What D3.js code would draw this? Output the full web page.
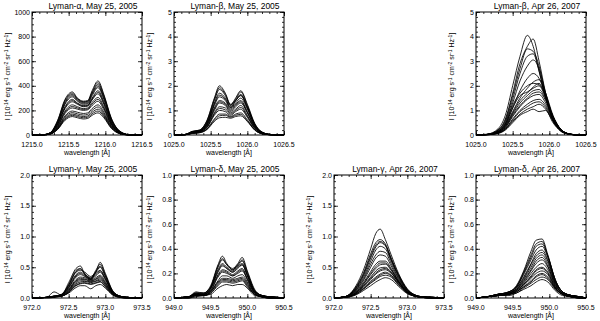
<!DOCTYPE html>
<html>
<head>
<meta charset="utf-8">
<script src="https://cdn.jsdelivr.net/npm/d3@7"></script>
<style>
body { margin: 0; background: #fff; }
svg { font-family: "Liberation Sans", Arial, sans-serif; }
</style>
</head>
<body>
<svg id="chart" width="600" height="321"></svg>
<script>
// ---- data ----
// Lyman-alpha, May 25 2005
var lyaMayWave = [1215.0, 1215.15, 1215.25, 1215.35, 1215.45, 1215.55, 1215.62, 1215.7, 1215.76, 1215.82, 1215.9, 1215.98, 1216.08, 1216.2, 1216.32, 1216.5];
var lyaMayProfiles = [
    [0, 2, 20, 120, 290, 350, 300, 275, 280, 360, 440, 330, 140, 30, 3, 0],
    [0, 2, 19, 115, 280, 340, 295, 270, 275, 350, 425, 320, 135, 29, 3, 0],
    [0, 2, 18, 110, 270, 330, 290, 265, 270, 340, 410, 310, 130, 28, 3, 0],
    [0, 2, 17, 105, 260, 320, 282, 258, 262, 330, 398, 300, 125, 26, 2, 0],
    [0, 2, 16, 100, 250, 310, 275, 250, 255, 320, 385, 290, 120, 25, 2, 0],
    [0, 2, 15, 90, 230, 290, 260, 240, 245, 300, 360, 270, 110, 22, 2, 0],
    [0, 2, 15, 88, 222, 280, 255, 235, 240, 292, 348, 260, 105, 21, 2, 0],
    [0, 2, 14, 85, 215, 270, 250, 230, 235, 285, 335, 250, 100, 20, 2, 0],
    [0, 1, 12, 75, 195, 245, 230, 215, 220, 265, 305, 230, 92, 18, 2, 0],
    [0, 1, 11, 70, 185, 232, 220, 208, 212, 252, 290, 218, 88, 17, 1, 0],
    [0, 1, 10, 65, 175, 220, 210, 200, 205, 240, 275, 205, 85, 16, 1, 0],
    [0, 1, 9, 58, 155, 195, 185, 175, 180, 215, 245, 185, 75, 14, 1, 0],
    [0, 1, 9, 54, 145, 182, 172, 162, 168, 200, 228, 172, 70, 13, 1, 0],
    [0, 1, 8, 50, 135, 170, 160, 150, 155, 185, 210, 160, 65, 12, 1, 0],
    [0, 1, 8, 48, 128, 160, 150, 140, 145, 172, 195, 150, 60, 11, 1, 0],
    [0, 1, 7, 45, 120, 150, 140, 130, 135, 160, 180, 140, 55, 10, 1, 0]
];
// Lyman-beta, May 25 2005
var lybMayWave = [1025.0, 1025.15, 1025.25, 1025.35, 1025.45, 1025.55, 1025.62, 1025.7, 1025.77, 1025.84, 1025.91, 1026.0, 1026.1, 1026.2, 1026.32, 1026.5];
var lybMayProfiles = [
    [0, 0.02, 0.15, 0.2, 0.6, 1.5, 2.0, 1.7, 1.25, 1.45, 1.75, 1.2, 0.45, 0.12, 0.02, 0],
    [0, 0.02, 0.14, 0.2, 0.58, 1.45, 1.92, 1.65, 1.22, 1.4, 1.6, 1.1, 0.42, 0.11, 0.02, 0],
    [0, 0.02, 0.14, 0.19, 0.55, 1.4, 1.85, 1.6, 1.2, 1.5, 1.8, 1.25, 0.48, 0.12, 0.02, 0],
    [0, 0.02, 0.13, 0.18, 0.5, 1.3, 1.7, 1.5, 1.15, 1.4, 1.65, 1.15, 0.42, 0.1, 0.02, 0],
    [0, 0.02, 0.12, 0.17, 0.48, 1.25, 1.62, 1.45, 1.12, 1.38, 1.62, 1.12, 0.43, 0.1, 0.02, 0],
    [0, 0.02, 0.12, 0.17, 0.45, 1.2, 1.55, 1.4, 1.1, 1.3, 1.5, 1.05, 0.4, 0.1, 0.02, 0],
    [0, 0.02, 0.11, 0.16, 0.42, 1.1, 1.4, 1.3, 1.05, 1.25, 1.4, 0.95, 0.36, 0.09, 0.01, 0],
    [0, 0.02, 0.11, 0.15, 0.4, 1.05, 1.35, 1.25, 1.0, 1.2, 1.35, 0.92, 0.34, 0.08, 0.01, 0],
    [0, 0.01, 0.1, 0.15, 0.38, 1.0, 1.3, 1.2, 0.95, 1.15, 1.3, 0.9, 0.33, 0.08, 0.01, 0],
    [0, 0.01, 0.09, 0.14, 0.34, 0.9, 1.15, 1.1, 0.9, 1.05, 1.2, 0.8, 0.3, 0.07, 0.01, 0],
    [0, 0.01, 0.09, 0.13, 0.32, 0.85, 1.08, 1.02, 0.85, 1.0, 1.12, 0.76, 0.28, 0.07, 0.01, 0],
    [0, 0.01, 0.08, 0.12, 0.3, 0.8, 1.0, 0.95, 0.8, 0.95, 1.05, 0.72, 0.26, 0.06, 0.01, 0],
    [0, 0.01, 0.07, 0.1, 0.25, 0.65, 0.85, 0.85, 0.75, 0.85, 0.9, 0.62, 0.22, 0.05, 0.01, 0],
    [0, 0.01, 0.07, 0.1, 0.24, 0.6, 0.78, 0.8, 0.72, 0.8, 0.84, 0.58, 0.21, 0.05, 0.01, 0],
    [0, 0.01, 0.06, 0.09, 0.22, 0.55, 0.7, 0.72, 0.68, 0.75, 0.78, 0.55, 0.2, 0.05, 0.01, 0]
];
// Lyman-beta, Apr 26 2007
var lybAprWave = [1025.0, 1025.15, 1025.3, 1025.4, 1025.5, 1025.6, 1025.7, 1025.78, 1025.86, 1025.95, 1026.05, 1026.15, 1026.25, 1026.35, 1026.5];
var lybAprProfiles = [
    [0, 0.03, 0.25, 0.8, 2.0, 3.2, 4.05, 3.6, 2.6, 1.5, 0.6, 0.2, 0.05, 0.01, 0],
    [0, 0.03, 0.2, 0.65, 1.7, 2.9, 3.6, 3.9, 3.0, 1.7, 0.7, 0.22, 0.06, 0.01, 0],
    [0, 0.02, 0.2, 0.6, 1.6, 2.7, 3.5, 3.4, 2.8, 1.6, 0.65, 0.2, 0.05, 0.01, 0],
    [0, 0.02, 0.18, 0.55, 1.45, 2.5, 3.2, 3.3, 2.6, 1.55, 0.6, 0.2, 0.05, 0.01, 0],
    [0, 0.02, 0.15, 0.5, 1.3, 2.2, 2.8, 3.05, 2.7, 1.7, 0.75, 0.25, 0.06, 0.01, 0],
    [0, 0.02, 0.15, 0.45, 1.1, 1.8, 2.3, 2.5, 2.3, 1.6, 0.7, 0.22, 0.05, 0.01, 0],
    [0, 0.02, 0.14, 0.45, 1.2, 1.7, 2.0, 2.1, 2.05, 1.6, 0.75, 0.25, 0.06, 0.01, 0],
    [0, 0.02, 0.12, 0.4, 0.95, 1.5, 1.9, 2.15, 2.25, 1.7, 0.8, 0.26, 0.06, 0.01, 0],
    [0, 0.02, 0.12, 0.4, 1.1, 1.6, 1.75, 1.9, 2.0, 1.5, 0.7, 0.24, 0.05, 0.01, 0],
    [0, 0.02, 0.11, 0.35, 0.9, 1.4, 1.7, 1.95, 2.1, 1.55, 0.72, 0.24, 0.06, 0.01, 0],
    [0, 0.02, 0.1, 0.35, 0.85, 1.3, 1.6, 1.8, 1.85, 1.45, 0.75, 0.25, 0.06, 0.01, 0],
    [0, 0.02, 0.09, 0.3, 0.8, 1.2, 1.5, 1.7, 1.75, 1.4, 0.7, 0.23, 0.05, 0.01, 0],
    [0, 0.02, 0.1, 0.3, 0.75, 1.15, 1.45, 1.6, 1.65, 1.3, 0.65, 0.22, 0.05, 0.01, 0],
    [0, 0.01, 0.08, 0.25, 0.65, 1.0, 1.25, 1.4, 1.45, 1.2, 0.6, 0.2, 0.05, 0.01, 0],
    [0, 0.01, 0.07, 0.24, 0.6, 0.95, 1.15, 1.3, 1.35, 1.12, 0.58, 0.19, 0.05, 0.01, 0],
    [0, 0.01, 0.08, 0.22, 0.55, 0.85, 1.05, 1.15, 1.25, 1.05, 0.55, 0.18, 0.04, 0.01, 0],
    [0, 0.01, 0.06, 0.2, 0.5, 0.8, 0.95, 1.05, 0.95, 1.0, 0.5, 0.16, 0.04, 0.01, 0]
];
// Lyman-gamma, May 25 2005
var lygMayWave = [972.0, 972.2, 972.3, 972.4, 972.5, 972.6, 972.66, 972.72, 972.8, 972.87, 972.93, 973.0, 973.1, 973.2, 973.3, 973.5];
var lygMayProfiles = [
    [0, 0.01, 0.1, 0.05, 0.25, 0.48, 0.52, 0.38, 0.3, 0.42, 0.58, 0.4, 0.12, 0.03, 0.01, 0],
    [0, 0.01, 0.03, 0.06, 0.22, 0.45, 0.48, 0.4, 0.32, 0.45, 0.55, 0.38, 0.11, 0.03, 0.01, 0],
    [0, 0.01, 0.03, 0.05, 0.21, 0.43, 0.47, 0.39, 0.31, 0.43, 0.52, 0.36, 0.11, 0.03, 0.01, 0],
    [0, 0.01, 0.03, 0.05, 0.2, 0.42, 0.45, 0.42, 0.35, 0.42, 0.5, 0.35, 0.1, 0.03, 0.01, 0],
    [0, 0.01, 0.03, 0.05, 0.18, 0.38, 0.42, 0.38, 0.33, 0.4, 0.45, 0.32, 0.1, 0.03, 0.01, 0],
    [0, 0.01, 0.03, 0.05, 0.17, 0.36, 0.4, 0.36, 0.31, 0.38, 0.44, 0.31, 0.09, 0.02, 0.01, 0],
    [0, 0.01, 0.02, 0.04, 0.16, 0.34, 0.38, 0.35, 0.3, 0.36, 0.42, 0.3, 0.09, 0.02, 0.01, 0],
    [0, 0.01, 0.02, 0.04, 0.14, 0.3, 0.34, 0.33, 0.29, 0.33, 0.37, 0.27, 0.08, 0.02, 0.01, 0],
    [0, 0.01, 0.02, 0.04, 0.13, 0.28, 0.32, 0.31, 0.28, 0.31, 0.35, 0.25, 0.08, 0.02, 0.01, 0],
    [0, 0.01, 0.02, 0.04, 0.12, 0.27, 0.3, 0.3, 0.27, 0.3, 0.33, 0.24, 0.07, 0.02, 0.01, 0],
    [0, 0.01, 0.02, 0.03, 0.11, 0.25, 0.28, 0.28, 0.26, 0.28, 0.31, 0.22, 0.07, 0.02, 0, 0],
    [0, 0.01, 0.02, 0.03, 0.1, 0.23, 0.26, 0.27, 0.25, 0.27, 0.29, 0.21, 0.06, 0.02, 0, 0],
    [0, 0.01, 0.02, 0.03, 0.09, 0.21, 0.24, 0.25, 0.23, 0.25, 0.27, 0.19, 0.06, 0.01, 0, 0],
    [0, 0.01, 0.02, 0.03, 0.09, 0.2, 0.23, 0.24, 0.22, 0.24, 0.26, 0.18, 0.05, 0.01, 0, 0],
    [0, 0, 0.01, 0.03, 0.08, 0.17, 0.2, 0.2, 0.15, 0.2, 0.22, 0.16, 0.05, 0.01, 0, 0]
];
// Lyman-delta, May 25 2005
var lydMayWave = [949.0, 949.2, 949.3, 949.4, 949.5, 949.6, 949.66, 949.72, 949.8, 949.87, 949.93, 950.0, 950.1, 950.2, 950.3, 950.5];
var lydMayProfiles = [
    [0, 0.01, 0.05, 0.04, 0.1, 0.27, 0.34, 0.28, 0.24, 0.28, 0.33, 0.22, 0.07, 0.02, 0.01, 0],
    [0, 0.01, 0.04, 0.04, 0.09, 0.26, 0.32, 0.27, 0.23, 0.27, 0.31, 0.21, 0.06, 0.02, 0.01, 0],
    [0, 0.01, 0.04, 0.04, 0.09, 0.25, 0.31, 0.27, 0.23, 0.27, 0.3, 0.2, 0.06, 0.02, 0.01, 0],
    [0, 0.01, 0.04, 0.03, 0.08, 0.23, 0.28, 0.25, 0.22, 0.26, 0.28, 0.19, 0.06, 0.02, 0.01, 0],
    [0, 0.01, 0.03, 0.03, 0.08, 0.22, 0.27, 0.24, 0.21, 0.25, 0.27, 0.18, 0.05, 0.02, 0.01, 0],
    [0, 0.01, 0.03, 0.03, 0.08, 0.21, 0.26, 0.24, 0.21, 0.24, 0.27, 0.18, 0.05, 0.02, 0.01, 0],
    [0, 0.01, 0.03, 0.03, 0.07, 0.19, 0.23, 0.22, 0.19, 0.22, 0.24, 0.16, 0.05, 0.01, 0.01, 0],
    [0, 0.01, 0.03, 0.03, 0.06, 0.18, 0.22, 0.21, 0.18, 0.21, 0.23, 0.15, 0.04, 0.01, 0.01, 0],
    [0, 0.01, 0.03, 0.03, 0.06, 0.17, 0.21, 0.2, 0.18, 0.2, 0.22, 0.15, 0.04, 0.01, 0.01, 0],
    [0, 0.01, 0.02, 0.02, 0.05, 0.14, 0.18, 0.18, 0.16, 0.18, 0.19, 0.13, 0.04, 0.01, 0, 0],
    [0, 0.01, 0.02, 0.02, 0.05, 0.13, 0.16, 0.16, 0.15, 0.16, 0.17, 0.12, 0.03, 0.01, 0, 0],
    [0, 0.01, 0.02, 0.02, 0.05, 0.12, 0.15, 0.15, 0.14, 0.15, 0.16, 0.11, 0.03, 0.01, 0, 0],
    [0, 0, 0.02, 0.02, 0.04, 0.11, 0.14, 0.14, 0.13, 0.14, 0.15, 0.1, 0.03, 0.01, 0, 0],
    [0, 0, 0.02, 0.02, 0.04, 0.1, 0.13, 0.13, 0.12, 0.13, 0.14, 0.09, 0.03, 0.01, 0, 0],
    [0, 0, 0.01, 0.02, 0.03, 0.08, 0.1, 0.11, 0.1, 0.11, 0.11, 0.08, 0.02, 0.01, 0, 0]
];
// Lyman-gamma, Apr 26 2007
var lygAprWave = [972.0, 972.15, 972.3, 972.4, 972.5, 972.57, 972.63, 972.7, 972.78, 972.88, 973.0, 973.1, 973.2, 973.35, 973.5];
var lygAprProfiles = [
    [0, 0.02, 0.2, 0.45, 0.8, 1.05, 1.12, 0.95, 0.7, 0.4, 0.15, 0.05, 0.02, 0.01, 0],
    [0, 0.02, 0.18, 0.4, 0.72, 0.9, 0.95, 0.88, 0.65, 0.38, 0.14, 0.05, 0.02, 0.01, 0],
    [0, 0.02, 0.17, 0.38, 0.68, 0.86, 0.92, 0.86, 0.63, 0.37, 0.13, 0.05, 0.02, 0.01, 0],
    [0, 0.02, 0.16, 0.36, 0.65, 0.83, 0.9, 0.85, 0.62, 0.36, 0.13, 0.05, 0.02, 0.01, 0],
    [0, 0.02, 0.15, 0.33, 0.6, 0.78, 0.84, 0.8, 0.6, 0.34, 0.12, 0.05, 0.02, 0.01, 0],
    [0, 0.02, 0.14, 0.3, 0.55, 0.7, 0.76, 0.74, 0.56, 0.32, 0.12, 0.04, 0.02, 0.01, 0],
    [0, 0.02, 0.13, 0.28, 0.5, 0.65, 0.7, 0.68, 0.52, 0.3, 0.11, 0.04, 0.02, 0.01, 0],
    [0, 0.02, 0.12, 0.25, 0.43, 0.55, 0.6, 0.6, 0.48, 0.28, 0.1, 0.04, 0.02, 0.01, 0],
    [0, 0.02, 0.11, 0.23, 0.4, 0.51, 0.57, 0.57, 0.46, 0.27, 0.1, 0.04, 0.01, 0.01, 0],
    [0, 0.02, 0.1, 0.22, 0.38, 0.48, 0.54, 0.55, 0.45, 0.27, 0.1, 0.04, 0.01, 0.01, 0],
    [0, 0.01, 0.09, 0.2, 0.34, 0.44, 0.49, 0.5, 0.42, 0.26, 0.1, 0.04, 0.01, 0, 0],
    [0, 0.01, 0.085, 0.19, 0.32, 0.41, 0.46, 0.48, 0.41, 0.25, 0.09, 0.03, 0.01, 0, 0],
    [0, 0.01, 0.08, 0.18, 0.3, 0.39, 0.44, 0.46, 0.4, 0.25, 0.09, 0.03, 0.01, 0, 0],
    [0, 0.01, 0.07, 0.16, 0.27, 0.34, 0.39, 0.42, 0.37, 0.23, 0.09, 0.03, 0.01, 0, 0],
    [0, 0.01, 0.065, 0.15, 0.25, 0.32, 0.37, 0.4, 0.36, 0.22, 0.08, 0.03, 0.01, 0, 0],
    [0, 0.01, 0.06, 0.14, 0.24, 0.3, 0.35, 0.37, 0.34, 0.21, 0.08, 0.03, 0.01, 0, 0],
    [0, 0.01, 0.05, 0.12, 0.2, 0.26, 0.3, 0.33, 0.3, 0.19, 0.07, 0.03, 0.01, 0, 0]
];
// Lyman-delta, Apr 26 2007
var lydAprWave = [949.0, 949.15, 949.3, 949.45, 949.55, 949.65, 949.75, 949.82, 949.9, 949.98, 950.08, 950.18, 950.3, 950.42, 950.5];
var lydAprProfiles = [
    [0, 0.01, 0.03, 0.05, 0.1, 0.22, 0.38, 0.47, 0.48, 0.35, 0.15, 0.05, 0.02, 0.01, 0],
    [0, 0.01, 0.03, 0.05, 0.09, 0.21, 0.35, 0.44, 0.46, 0.34, 0.15, 0.05, 0.02, 0.01, 0],
    [0, 0.01, 0.03, 0.05, 0.09, 0.2, 0.33, 0.42, 0.44, 0.34, 0.15, 0.05, 0.02, 0.01, 0],
    [0, 0.01, 0.03, 0.05, 0.09, 0.19, 0.31, 0.39, 0.42, 0.33, 0.14, 0.05, 0.02, 0.01, 0],
    [0, 0.01, 0.03, 0.04, 0.08, 0.17, 0.28, 0.36, 0.39, 0.31, 0.13, 0.05, 0.02, 0.01, 0],
    [0, 0.01, 0.03, 0.04, 0.08, 0.16, 0.27, 0.34, 0.37, 0.3, 0.13, 0.05, 0.02, 0.01, 0],
    [0, 0.01, 0.03, 0.04, 0.07, 0.15, 0.25, 0.32, 0.35, 0.28, 0.12, 0.04, 0.02, 0.01, 0],
    [0, 0.01, 0.02, 0.04, 0.07, 0.14, 0.23, 0.3, 0.33, 0.26, 0.11, 0.04, 0.02, 0.01, 0],
    [0, 0.01, 0.02, 0.04, 0.07, 0.13, 0.22, 0.28, 0.31, 0.25, 0.11, 0.04, 0.02, 0.01, 0],
    [0, 0.01, 0.02, 0.04, 0.06, 0.12, 0.2, 0.25, 0.28, 0.23, 0.1, 0.04, 0.01, 0.01, 0],
    [0, 0.01, 0.02, 0.03, 0.06, 0.11, 0.18, 0.23, 0.25, 0.21, 0.09, 0.03, 0.01, 0, 0],
    [0, 0.01, 0.02, 0.03, 0.06, 0.11, 0.17, 0.22, 0.24, 0.2, 0.09, 0.03, 0.01, 0, 0],
    [0, 0.01, 0.02, 0.03, 0.05, 0.1, 0.16, 0.2, 0.22, 0.19, 0.08, 0.03, 0.01, 0, 0],
    [0, 0.01, 0.02, 0.03, 0.05, 0.09, 0.14, 0.18, 0.2, 0.17, 0.08, 0.03, 0.01, 0, 0],
    [0, 0.01, 0.02, 0.03, 0.05, 0.09, 0.13, 0.17, 0.19, 0.16, 0.08, 0.03, 0.01, 0, 0],
    [0, 0.01, 0.02, 0.03, 0.04, 0.08, 0.12, 0.15, 0.17, 0.15, 0.07, 0.03, 0.01, 0, 0],
    [0, 0.01, 0.02, 0.02, 0.04, 0.07, 0.1, 0.13, 0.15, 0.13, 0.06, 0.02, 0.01, 0, 0]
];

// tick labels
var lyaTicksX = [1215.0, 1215.5, 1216.0, 1216.5];
var lybTicksX = [1025.0, 1025.5, 1026.0, 1026.5];
var lygTicksX = [972.0, 972.5, 973.0, 973.5];
var lydTicksX = [949.0, 949.5, 950.0, 950.5];
var lyaTicksY = [0, 200, 400, 600, 800, 1000];
var lybTicksY = [0, 1, 2, 3, 4, 5];
var lygTicksY = [0, 0.5, 1.0, 1.5, 2.0];
var lydTicksY = [0, 0.2, 0.4, 0.6, 0.8, 1.0];

var titles = ["Lyman-\u03b1, May 25, 2005", "Lyman-\u03b2, May 25, 2005", "Lyman-\u03b2, Apr 26, 2007",
              "Lyman-\u03b3, May 25, 2005", "Lyman-\u03b4, May 25, 2005", "Lyman-\u03b3, Apr 26, 2007", "Lyman-\u03b4, Apr 26, 2007"];

// ---- layout ----
var colLeft = [32, 174, 334, 476];
var rowTop = [12, 175];
var pw = 110, ph = 123;

var panels = [
    {title: titles[0], col: 0, row: 0, wave: lyaMayWave, prof: lyaMayProfiles, xt: lyaTicksX, yt: lyaTicksY, yfmt: d3.format("d"), ymin: 50},
    {title: titles[1], col: 1, row: 0, wave: lybMayWave, prof: lybMayProfiles, xt: lybTicksX, yt: lybTicksY, yfmt: d3.format("d"), ymin: 0.2},
    {title: titles[2], col: 3, row: 0, wave: lybAprWave, prof: lybAprProfiles, xt: lybTicksX, yt: lybTicksY, yfmt: d3.format("d"), ymin: 0.2},
    {title: titles[3], col: 0, row: 1, wave: lygMayWave, prof: lygMayProfiles, xt: lygTicksX, yt: lygTicksY, yfmt: d3.format(".1f"), ymin: 0.1},
    {title: titles[4], col: 1, row: 1, wave: lydMayWave, prof: lydMayProfiles, xt: lydTicksX, yt: lydTicksY, yfmt: d3.format(".1f"), ymin: 0.05},
    {title: titles[5], col: 2, row: 1, wave: lygAprWave, prof: lygAprProfiles, xt: lygTicksX, yt: lygTicksY, yfmt: d3.format(".1f"), ymin: 0.1},
    {title: titles[6], col: 3, row: 1, wave: lydAprWave, prof: lydAprProfiles, xt: lydTicksX, yt: lydTicksY, yfmt: d3.format(".1f"), ymin: 0.05}
];

var svg = d3.select("#chart");

panels.forEach(function (p) {
    var x0 = colLeft[p.col], y0 = rowTop[p.row];
    var g = svg.append("g").attr("transform", "translate(" + x0 + "," + y0 + ")");

    var xDom = [p.xt[0], p.xt[p.xt.length - 1]];
    var yDom = [p.yt[0], p.yt[p.yt.length - 1]];
    var x = d3.scaleLinear().domain(xDom).range([0, pw]);
    var y = d3.scaleLinear().domain(yDom).range([ph, 0]);

    // minor ticks
    var xMinor = d3.range(xDom[0], xDom[1] + 1e-6, 0.1);
    var yMinor = d3.range(yDom[0], yDom[1] + 1e-9, p.ymin);

    var line = d3.line()
        .x(function (d, i) { return x(p.wave[i]); })
        .y(function (d) { return y(d); })
        .curve(d3.curveMonotoneX);

    g.selectAll("path.prof")
        .data(p.prof)
        .enter()
        .append("path")
        .attr("class", "prof")
        .attr("d", line)
        .style("fill", "none")
        .style("stroke", "#000")
        .style("stroke-width", 0.85);

    // axes: ticks point inwards, like IDL
    function styleAxis(sel) {
        sel.select(".domain").remove();
        sel.selectAll("line").attr("stroke", "#000").attr("stroke-width", 0.8);
    }
    g.append("g").attr("transform", "translate(0," + ph + ")")
        .call(d3.axisBottom(x).tickValues(xMinor).tickSize(-2).tickFormat("")).call(styleAxis);
    g.append("g")
        .call(d3.axisTop(x).tickValues(xMinor).tickSize(-2).tickFormat("")).call(styleAxis);
    g.append("g").attr("transform", "translate(0," + ph + ")")
        .call(d3.axisBottom(x).tickValues(p.xt).tickSize(-4).tickFormat("")).call(styleAxis);
    g.append("g")
        .call(d3.axisTop(x).tickValues(p.xt).tickSize(-4).tickFormat("")).call(styleAxis);
    g.append("g")
        .call(d3.axisLeft(y).tickValues(yMinor).tickSize(-2).tickFormat("")).call(styleAxis);
    g.append("g").attr("transform", "translate(" + pw + ",0)")
        .call(d3.axisRight(y).tickValues(yMinor).tickSize(-2).tickFormat("")).call(styleAxis);
    g.append("g")
        .call(d3.axisLeft(y).tickValues(p.yt).tickSize(-4).tickFormat("")).call(styleAxis);
    g.append("g").attr("transform", "translate(" + pw + ",0)")
        .call(d3.axisRight(y).tickValues(p.yt).tickSize(-4).tickFormat("")).call(styleAxis);

    // frame
    g.append("rect")
        .attr("x", 0).attr("y", 0)
        .attr("width", pw).attr("height", ph)
        .style("fill", "none")
        .style("stroke", "#000")
        .style("stroke-width", 1);

    // tick labels
    g.selectAll("text.xl")
        .data(p.xt)
        .enter()
        .append("text")
        .attr("x", function (d) { return x(d); })
        .attr("y", ph + 12)
        .attr("text-anchor", "middle")
        .style("font-size", "7px")
        .text(d3.format(".1f"));
    g.selectAll("text.yl")
        .data(p.yt)
        .enter()
        .append("text")
        .attr("x", -2)
        .attr("y", function (d) { return y(d) + 2.5; })
        .attr("text-anchor", "end")
        .style("font-size", "7px")
        .text(p.yfmt);

    // title
    g.append("text")
        .attr("x", pw / 2 + 6)
        .attr("y", -3)
        .attr("text-anchor", "middle")
        .style("font-size", "8.5px")
        .text(p.title);

    // x label
    g.append("text")
        .attr("x", pw / 2)
        .attr("y", ph + 20)
        .attr("text-anchor", "middle")
        .style("font-size", "7px")
        .text("wavelength [\u00c5]");

    // y label
    var yl = g.append("text")
        .attr("transform", "translate(-22," + (ph / 2 + 3) + ") rotate(-90)")
        .attr("text-anchor", "middle")
        .style("font-size", "7px");
    var parts = [["I [10", ""], ["-14", "s"], [" erg s", ""], ["-1", "s"], [" cm", ""], ["-2", "s"], [" sr", ""], ["-1", "s"], [" Hz", ""], ["-1", "s"], ["]", ""]];
    var up = false;
    parts.forEach(function (t) {
        var ts = yl.append("tspan").text(t[0]);
        if (t[1] === "s") {
            ts.attr("dy", -2.5).style("font-size", "5px");
            up = true;
        } else if (up) {
            ts.attr("dy", 2.5);
            up = false;
        }
    });
});
</script>
</body>
</html>
